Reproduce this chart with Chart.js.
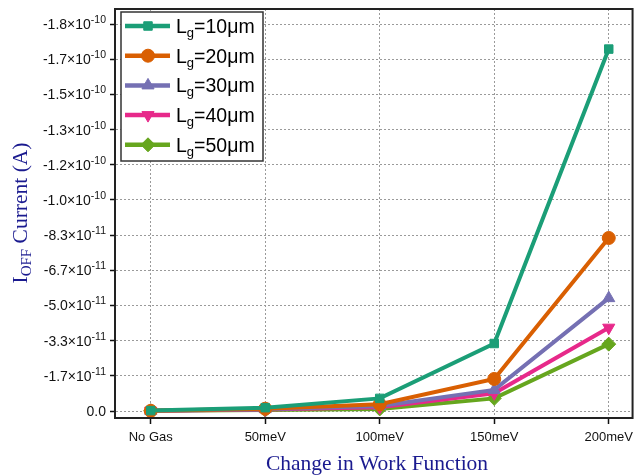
<!DOCTYPE html>
<html>
<head>
<meta charset="utf-8">
<script src="https://cdn.jsdelivr.net/npm/chart.js@4/dist/chart.umd.min.js"></script>
<style>
html,body{margin:0;padding:0;background:#fff;}
#wrap{width:639px;height:475px;position:relative;}
</style>
</head>
<body>
<div id="wrap"><canvas id="c" width="639" height="475"></canvas></div>
<script>
const categories = ["No Gas", "50meV", "100meV", "150meV", "200meV"];
const seriesNames = ["10μm", "20μm", "30μm", "40μm", "50μm"];
const lg10 = [-0.2e-12, -1.6e-12, -6.0e-12, -3.2e-11, -1.715e-10];
const lg20 = [-0.1e-12, -1.1e-12, -3.2e-12, -1.52e-11, -8.2e-11];
const lg30 = [-0.1e-12, -0.9e-12, -2.4e-12, -1.0e-11, -5.35e-11];
const lg40 = [-0.1e-12, -0.7e-12, -1.8e-12, -8.4e-12, -3.95e-11];
const lg50 = [-0.1e-12, -0.5e-12, -1.0e-12, -6.0e-12, -3.17e-11];
const yTickValues = [0, -1.6667e-11, -3.3333e-11, -5.0e-11, -6.6667e-11, -8.3333e-11, -1.0e-10, -1.16667e-10, -1.33333e-10, -1.5e-10, -1.66667e-10, -1.83333e-10];
const yTickMantissa = ["0.0", "-1.7", "-3.3", "-5.0", "-6.7", "-8.3", "-1.0", "-1.2", "-1.3", "-1.5", "-1.7", "-1.8"];
const yTickExponent = ["", "-11", "-11", "-11", "-11", "-11", "-10", "-10", "-10", "-10", "-10", "-10"];

const colors = ["#1b9e77", "#d95f02", "#7570b3", "#e7298a", "#66a61e"];
const styles = ["rect", "circle", "triangle", "triangle", "rectRot"];
const rotations = [0, 0, 0, 180, 0];
const radii = [6, 6.5, 7, 7, 7];
const allSeries = [lg10, lg20, lg30, lg40, lg50];

const datasets = allSeries.map((arr, i) => ({
  label: "Lg=" + seriesNames[i],
  data: arr.map((v, j) => ({x: j, y: v})),
  borderColor: colors[i],
  backgroundColor: colors[i],
  pointBackgroundColor: colors[i],
  pointBorderColor: colors[i],
  pointStyle: styles[i],
  rotation: rotations[i],
  pointRadius: radii[i],
  borderWidth: 4,
  pointBorderWidth: 1,
  tension: 0,
  order: i
}));

const titleBlue = "#1a1a8f";
const sans = "'Liberation Sans', Arial, sans-serif";
const serif = "'Liberation Serif', 'Times New Roman', serif";

const decor = {
  id: "decor",
  afterDraw(chart) {
    const ctx = chart.ctx;
    const a = chart.chartArea;
    const ys = chart.scales.y;
    ctx.save();
    // frame
    ctx.strokeStyle = "#222";
    ctx.lineWidth = 2;
    ctx.setLineDash([]);
    ctx.strokeRect(a.left, a.top, a.right - a.left, a.bottom - a.top);

    // y tick labels with superscript exponents
    ctx.fillStyle = "#111";
    ctx.textBaseline = "middle";
    ctx.textAlign = "right";
    const rightX = a.left - 9;
    yTickValues.forEach((v, i) => {
      const py = ys.getPixelForValue(v);
      const exp = yTickExponent[i];
      if (!exp) {
        ctx.font = "14px " + sans;
        ctx.fillText(yTickMantissa[i], rightX, py + 1);
        return;
      }
      ctx.font = "10.5px " + sans;
      const we = ctx.measureText(exp).width;
      ctx.fillText(exp, rightX, py - 4);
      ctx.font = "14px " + sans;
      ctx.fillText(yTickMantissa[i] + "×10", rightX - we, py + 1);
    });

    // legend
    const lx = 121, ly = 12, lw = 142, lh = 149;
    ctx.fillStyle = "#fff";
    ctx.fillRect(lx, ly, lw, lh);
    ctx.strokeStyle = "#333";
    ctx.lineWidth = 1.5;
    ctx.strokeRect(lx, ly, lw, lh);
    for (let i = 0; i < 5; i++) {
      const y = 26 + i * 29.7;
      ctx.strokeStyle = colors[i];
      ctx.lineWidth = 4.5;
      ctx.beginPath();
      ctx.moveTo(125, y);
      ctx.lineTo(170, y);
      ctx.stroke();
      ctx.fillStyle = colors[i];
      ctx.strokeStyle = colors[i];
      ctx.lineWidth = 1;
      Chart.helpers.drawPoint(ctx, {pointStyle: styles[i], rotation: rotations[i], radius: radii[i], borderWidth: 1}, 148, y);
      ctx.fillStyle = "#000";
      ctx.textBaseline = "alphabetic";
      ctx.textAlign = "left";
      ctx.font = "19.5px " + sans;
      ctx.fillText("L", 176, y + 7);
      const wL = ctx.measureText("L").width;
      ctx.font = "13px " + sans;
      ctx.fillText("g", 176 + wL, y + 11);
      const wg = ctx.measureText("g").width;
      ctx.font = "19.5px " + sans;
      ctx.fillText("=" + seriesNames[i], 176 + wL + wg, y + 7);
    }

    // x title
    ctx.fillStyle = titleBlue;
    ctx.font = "21.5px " + serif;
    ctx.textAlign = "center";
    ctx.textBaseline = "alphabetic";
    ctx.fillText("Change in Work Function", 377, 470);

    // y title (rotated)
    ctx.translate(27, 213);
    ctx.rotate(-Math.PI / 2);
    const big = "21.5px " + serif;
    const small = "15px " + serif;
    ctx.font = big;
    const wI = ctx.measureText("I").width;
    ctx.font = small;
    const wOFF = ctx.measureText("OFF").width;
    ctx.font = big;
    const wRest = ctx.measureText(" Current (A)").width;
    const total = wI + wOFF + wRest;
    let x0 = -total / 2;
    ctx.textAlign = "left";
    ctx.font = big;
    ctx.fillText("I", x0, 0);
    ctx.font = small;
    ctx.fillText("OFF", x0 + wI, 4);
    ctx.font = big;
    ctx.fillText(" Current (A)", x0 + wI + wOFF, 0);
    ctx.restore();
  }
};

new Chart(document.getElementById("c"), {
  type: "line",
  data: { datasets },
  options: {
    responsive: false,
    animation: false,
    devicePixelRatio: 1,
    layout: { autoPadding: false, padding: { top: 9, right: 1, left: 0, bottom: 0 } },
    plugins: { legend: { display: false }, tooltip: { enabled: false } },
    scales: {
      x: {
        type: "linear",
        min: -0.312,
        max: 4.208,
        afterBuildTicks: (s) => { s.ticks = categories.map((c, i) => ({ value: i })); },
        afterFit: (s) => { s.height = 57; },
        ticks: {
          callback: (v) => categories[v],
          color: "#111",
          font: { family: sans, size: 13 },
          padding: 6,
          maxRotation: 0,
          autoSkip: false
        },
        grid: {
          color: "#9a9a9a",
          lineWidth: 1,
          drawTicks: true,
          tickLength: 6,
          tickColor: "#111",
          tickWidth: 1.5,
          tickBorderDash: []
        },
        border: { display: true, color: "#222", width: 2, dash: [2, 2] }
      },
      y: {
        type: "linear",
        reverse: true,
        min: -1.905e-10,
        max: 3.3e-12,
        afterBuildTicks: (s) => { s.ticks = yTickValues.map((v) => ({ value: v })); },
        afterFit: (s) => { s.width = 115; },
        ticks: {
          display: false
        },
        grid: {
          color: "#9a9a9a",
          lineWidth: 1,
          drawTicks: true,
          tickLength: 5,
          tickColor: "#111",
          tickWidth: 1.5,
          tickBorderDash: []
        },
        border: { display: true, color: "#222", width: 2, dash: [2, 2] }
      }
    }
  },
  plugins: [decor]
});
</script>
</body>
</html>
